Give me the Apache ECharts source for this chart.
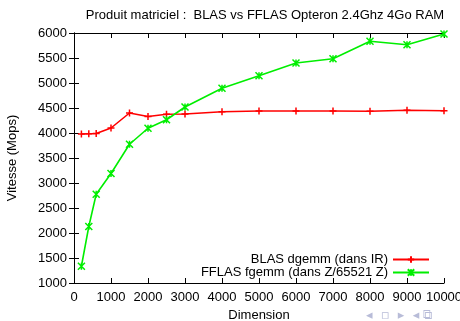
<!DOCTYPE html>
<html><head><meta charset="utf-8">
<script src="https://cdn.jsdelivr.net/npm/echarts@6/dist/echarts.min.js"></script>
<style>html,body{margin:0;padding:0;background:#fff}#c{width:460px;height:321px}</style>
</head><body><div id="c"></div>
<script>
var dims = [200, 400, 600, 1000, 1500, 2000, 2500, 3000, 4000, 5000, 6000, 7000, 8000, 9000, 10000];
var blas = [3980, 3985, 3990, 4100, 4400, 4330, 4375, 4380, 4425, 4440, 4440, 4440, 4435, 4455, 4445];
var fflas = [1335, 2130, 2775, 3190, 3775, 4095, 4265, 4520, 4895, 5145, 5400, 5485, 5835, 5765, 5980];
var seriesNames = ['BLAS dgemm (dans IR)', 'FFLAS fgemm (dans Z/65521 Z)'];
var titleText = 'Produit matriciel :  BLAS vs FFLAS Opteron 2.4Ghz 4Go RAM';

function pairs(v){ return dims.map(function(d,i){ return [d, v[i]]; }); }
var font = 'Liberation Sans, Arial, sans-serif';
var chart = echarts.init(document.getElementById('c'), null, {renderer:'canvas'});
var plusPath = 'path://M5,0 L5,10 M0,5 L10,5';
var xPath = 'path://M0,0 L10,10 M0,10 L10,0 M5,0 L5,10';
function plain(v){ return String(v); }
chart.setOption({
  animation:false,
  title:{text:titleText, left:260, top:4, textAlign:'center',
    textStyle:{fontFamily:font, fontSize:13, fontWeight:'normal', color:'#000'}},
  grid:{left:74, right:16, top:33, bottom:38, containLabel:false, outerBoundsMode:'none'},
  legend:[
    {data:[seriesNames[0]], orient:'vertical', right:30, top:253, align:'right', itemWidth:36, itemHeight:8, itemGap:2,
     textStyle:{fontFamily:font, fontSize:13, color:'#000'}, padding:0},
    {data:[seriesNames[1]], orient:'vertical', right:30, top:266, align:'right', itemWidth:36, itemHeight:8, itemGap:2,
     textStyle:{fontFamily:font, fontSize:13, color:'#000'}, padding:0}
  ],
  xAxis:[
    {type:'value', min:0, max:10000, interval:1000, name:'Dimension', nameLocation:'middle', nameGap:26,
     nameTextStyle:{fontFamily:font, fontSize:13, color:'#000'},
     axisLine:{lineStyle:{color:'#000', width:1}}, axisTick:{inside:true, length:5, lineStyle:{color:'#000'}},
     axisLabel:{fontFamily:font, fontSize:13, color:'#000', margin:8, formatter:plain}, splitLine:{show:false}},
    {type:'value', position:'top', min:0, max:10000, interval:1000,
     axisLine:{show:true, lineStyle:{color:'#000', width:1}}, axisTick:{inside:true, length:5, lineStyle:{color:'#000'}},
     axisLabel:{show:false}, splitLine:{show:false}}
  ],
  yAxis:[
    {type:'value', min:1000, max:6000, interval:500, name:'Vitesse (Mops)', nameLocation:'middle', nameGap:55,
     nameTextStyle:{fontFamily:font, fontSize:13, color:'#000'},
     axisLine:{show:true, lineStyle:{color:'#000', width:1}}, axisTick:{show:true, inside:true, length:5, lineStyle:{color:'#000'}},
     axisLabel:{fontFamily:font, fontSize:13, color:'#000', margin:7, formatter:plain}, splitLine:{show:false}},
    {type:'value', position:'right', min:1000, max:6000, interval:500,
     axisLine:{show:true, lineStyle:{color:'#000', width:1}}, axisTick:{show:true, inside:true, length:5, lineStyle:{color:'#000'}},
     axisLabel:{show:false}, splitLine:{show:false}}
  ],
  series:[
    {name:seriesNames[0], type:'line', data:pairs(blas), symbol:plusPath, symbolSize:7,
     lineStyle:{color:'#ff0000', width:1.6}, itemStyle:{color:'#ff0000', borderColor:'#ff0000', borderWidth:1.5}},
    {name:seriesNames[1], type:'line', data:pairs(fflas), symbol:xPath, symbolSize:7,
     lineStyle:{color:'#00ee00', width:1.6}, itemStyle:{color:'#00ee00', borderColor:'#00ee00', borderWidth:1.5}}
  ],
  graphic:[
    {type:'text', left:366, top:309, style:{text:'◂  ▫  ▸  ◂ ⧉', fill:'#b8bcd8', font:'13px DejaVu Sans'}}
  ]
});
</script></body></html>
